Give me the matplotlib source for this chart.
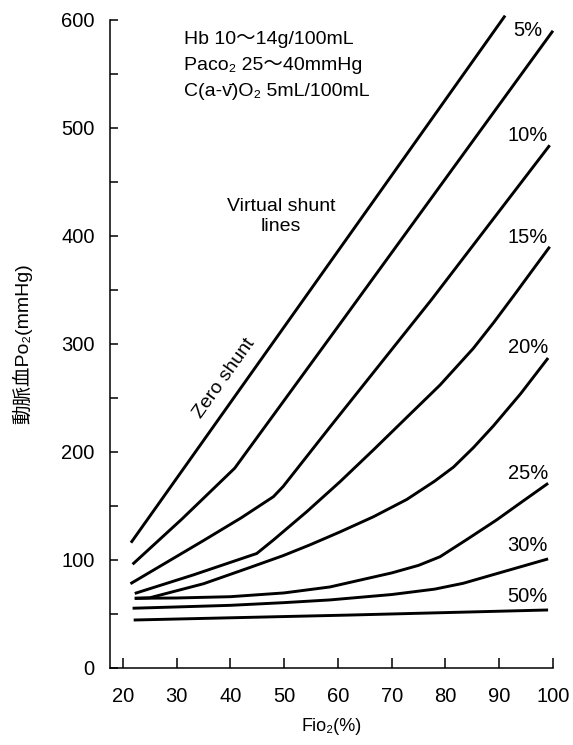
import numpy as np
import matplotlib
matplotlib.use("Agg")
import matplotlib.pyplot as plt

plt.rcParams['font.family'] = ['Liberation Sans', 'Noto Sans CJK JP', 'DejaVu Sans']

# Fio2 (%) / arterial Po2 (mmHg)
zero_x = [21.5, 91.1]
zero_y = [116, 604]

s5_x = [21.8, 31, 40.8, 60, 80, 100]
s5_y = [96, 138, 185, 316, 453, 590]

s10_x = [21.4, 35, 42, 48, 49.8, 58.5, 77.4, 99.4]
s10_y = [78, 118, 139, 158.6, 168, 223, 341, 484]

s15_x = [22.2, 33, 44.9, 48, 54.2, 60.4, 66.6, 72.8, 79, 85.2, 89, 92.9, 96, 99.4]
s15_y = [69, 86, 106, 118.5, 144.7, 172.5, 201.9, 232, 262, 296, 320, 346, 367, 390]

s20_x = [22.2, 25, 35, 43.6, 49.8, 54.8, 60.4, 66.6, 72.8, 78, 81.5, 85.2, 88.9, 94, 99.1]
s20_y = [64.5, 65, 78, 93, 104, 114, 126, 140, 156, 173, 186, 204, 224, 254, 287]

s25_x = [22.2, 30, 40, 50, 58.5, 65.3, 70, 75, 79, 84, 89.5, 94, 99.1]
s25_y = [64.5, 64.8, 66, 69.5, 75, 82.7, 88, 95, 103, 119, 137, 153, 171]

s30_x = [21.8, 30, 40, 50, 58.5, 70, 78, 83.3, 90, 99.1]
s30_y = [55.3, 56.5, 58, 60.5, 63, 68, 73, 78.4, 88, 101]

s50_x = [22, 62.2, 99.1]
s50_y = [44.4, 49, 53.7]

shunt_labels = ['5%', '10%', '15%', '20%', '25%', '30%', '50%']
label_y = [590, 493, 399, 297, 180, 113, 66]

fig = plt.figure(figsize=(5.73, 7.45), dpi=100)
ax = fig.add_axes([0.192, 0.1034, 0.773, 0.8698])

series = [(zero_x, zero_y), (s5_x, s5_y), (s10_x, s10_y), (s15_x, s15_y),
          (s20_x, s20_y), (s25_x, s25_y), (s30_x, s30_y), (s50_x, s50_y)]
for xs, ys in series:
    ax.plot(xs, ys, color='black', lw=2.1, solid_capstyle='butt',
            solid_joinstyle='round', clip_on=False)

for lab, yy in zip(shunt_labels, label_y):
    ax.text(95.3, yy, lab, fontsize=14.5, ha='center', va='center')

ax.text(31.3, 582, 'Hb 10～14g/100mL', fontsize=14, va='center')
ax.text(31.3, 558, 'Paco₂ 25～40mmHg', fontsize=14, va='center')
ax.text(31.3, 534, 'C(a-v̄)O₂ 5mL/100mL', fontsize=14, va='center')

ax.text(49.4, 418, 'Virtual shunt\nlines', fontsize=14, ha='center', va='center',
        linespacing=1.25)
ax.text(38.9, 268, 'Zero shunt', fontsize=14, ha='center', va='center', rotation=54.6)

ax.set_xlim(17.6, 100)
ax.set_ylim(0, 600)
ax.set_xticks(np.arange(20, 101, 10))
ax.set_yticks(np.arange(0, 601, 100))
ax.set_yticks(np.arange(50, 600, 100), minor=True)

for side in ['top', 'right']:
    ax.spines[side].set_visible(False)
for side in ['left', 'bottom']:
    ax.spines[side].set_linewidth(1.1)

ax.tick_params(axis='x', direction='in', length=7, width=1.1, pad=14, labelsize=14.5)
ax.tick_params(axis='y', which='both', direction='in', length=5.5, width=1.1, pad=11,
               labelsize=14.5)

ax.set_xlabel('Fio₂(%)', fontsize=13, labelpad=8)
ax.set_ylabel('動脈血Po₂(mmHg)', fontsize=14, labelpad=21)

fig.savefig('out.png', dpi=100)
